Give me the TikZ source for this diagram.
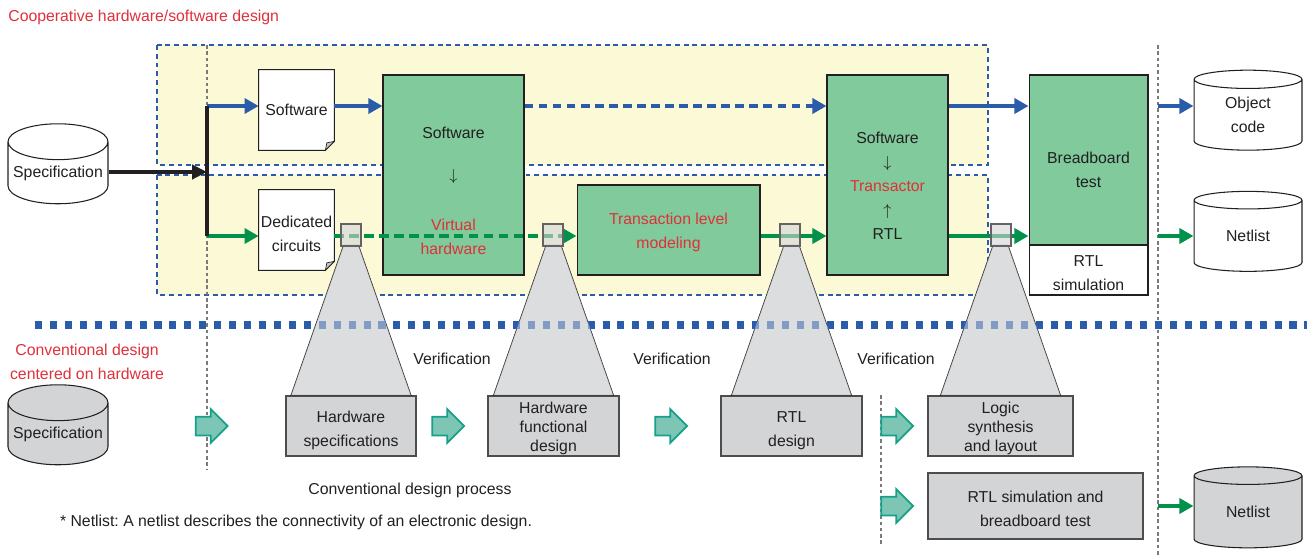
\documentclass[tikz,border=0pt]{standalone}
\usepackage{fontspec}
\setmainfont{Liberation Sans}
\usetikzlibrary{arrows.meta,shapes.geometric,shapes.arrows,calc}
\definecolor{hwblue}{HTML}{2A5CAA}
\definecolor{hwgreen}{HTML}{00924A}
\definecolor{boxgreen}{HTML}{80CA9C}
\definecolor{paleyellow}{HTML}{FCF9D6}
\definecolor{hwred}{HTML}{E0303A}
\definecolor{ink}{HTML}{231F20}
\definecolor{boxgrey}{HTML}{D3D4D6}
\definecolor{conegrey}{HTML}{DCDDDF}
\definecolor{blockteal}{HTML}{7DC6B6}
\definecolor{tealedge}{HTML}{17A088}
\frenchspacing
\begin{document}
\begin{tikzpicture}[x=0.02cm,y=-0.02cm,
    font=\fontsize{9}{13.6}\selectfont,text=ink,
    every node/.style={align=center,inner sep=0pt},
    grn/.style={draw=ink,fill=boxgreen,line width=0.6pt,text depth=0pt},
    gry/.style={draw=ink!80,fill=boxgrey,line width=0.8pt,minimum height=1.2cm,text depth=0pt,text height=22.8pt},
    doc/.style={fill=white,minimum width=1.5cm,minimum height=1.6cm},
    cyl/.style={cylinder,shape border rotate=90,aspect=0.4,draw=ink,fill=white,
      line width=0.6pt,minimum width=2.16cm,minimum height=1.6cm},
    blk/.style={single arrow,draw=tealedge,fill=blockteal,line width=1pt,
      inner sep=0.17cm,minimum height=0.64cm,single arrow head extend=0.15cm},
    swarr/.style={draw=hwblue,line width=2.3pt,-{Triangle[length=8pt,width=8.5pt]}},
    hwarr/.style={draw=hwgreen,line width=2.3pt,-{Triangle[length=8pt,width=8.5pt]}},
    group/.style={draw=hwblue,fill=paleyellow,line width=1.2pt,dash pattern=on 2.8pt off 2.2pt},
    guide/.style={draw=ink!60,line width=0.6pt,dash pattern=on 2pt off 1.6pt},
    probe/.style={draw=ink!70,fill=boxgrey,fill opacity=0.6,line width=0.6pt,
      minimum width=0.4cm,minimum height=0.44cm}]
  \useasboundingbox (0,0) rectangle (1307,558);

  \draw[group] (157,45) rectangle (988,165);
  \draw[group] (157,175) rectangle (988,295);
  \draw[guide] (207,45) -- (207,470);
  \draw[guide] (1158,45) -- (1158,555);
  \draw[guide] (881,395) -- (881,545);

  \node[anchor=west,text=hwred] (title) at (8,17) {Cooperative hardware/software design};
  \node[cyl,minimum width=2cm] (spec) at (58,173) {Specification};
  \node[doc] (sw) at (296.5,110) {Software};
  \node[doc,text height=24.2pt,text depth=0pt] (dc) at (296.5,230) {Dedicated\\circuits};
  \foreach \d in {sw,dc} {
    \fill[paleyellow] (\d.south east) -- ([yshift=0.18cm]\d.south east) -- ([xshift=-0.18cm]\d.south east) -- cycle;
    \draw[ink,line width=0.6pt] (\d.north west) -- (\d.north east) -- ([yshift=0.18cm]\d.south east)
      -- ([xshift=-0.18cm]\d.south east) -- (\d.south west) -- cycle;
    \draw[ink,line width=0.4pt,fill=ink!25] ([yshift=0.18cm]\d.south east)
      -- ([xshift=-0.15cm,yshift=0.15cm]\d.south east) -- ([xshift=-0.18cm]\d.south east) -- cycle;
  }
  \node[grn,minimum width=2.82cm,minimum height=4cm,text height=90pt] (vh) at (453.5,175)
    {Software\\[10pt]$\downarrow$\\[14.7pt]\textcolor{hwred}{Virtual}\\\textcolor{hwred}{hardware}};
  \node[grn,minimum width=3.66cm,minimum height=1.8cm,text=hwred,text height=20.6pt] (tlm) at (668.5,230) {Transaction level\\modeling};
  \node[grn,minimum width=2.42cm,minimum height=4cm,text height=73.5pt] (tr) at (887.5,175)
    {Software\\$\downarrow$\\\textcolor{hwred}{Transactor}\\$\uparrow$\\RTL};
  \node[grn,minimum width=2.38cm,minimum height=3.4cm,text height=31.6pt] (bb) at (1088.5,160) {Breadboard\\test};
  \node[draw=ink,fill=white,line width=0.6pt,minimum width=2.38cm,minimum height=1cm,
    text height=23.6pt,text depth=0pt] (rs) at (1088.5,270) {RTL\\simulation};
  \node[cyl] (obj) at (1248,115) {Object\\code};
  \node[cyl] (net) at (1248,236) {Netlist};

  \node[text=hwred] (conv) at (87,362) {Conventional design\\centered on hardware};
  \node[cyl,fill=boxgrey,minimum width=2cm] (spec2) at (58,434) {Specification};
  \node[gry,minimum width=2.6cm] (hs) at (351,426) {Hardware\\specifications};
  \node[gry,minimum width=2.62cm,text height=28.6pt,font=\fontsize{9}{10.8}\selectfont] (hf) at (553.5,426) {Hardware\\functional\\design};
  \node[gry,minimum width=2.82cm] (rd) at (791.5,426) {RTL\\design};
  \node[gry,minimum width=2.9cm,text height=28.6pt,font=\fontsize{9}{10.8}\selectfont] (ls) at (1000.5,426) {Logic\\synthesis\\and layout};
  \node[gry,minimum width=4.3cm,minimum height=1.32cm,text height=23.6pt] (rb) at (1035.5,506) {RTL simulation and\\breadboard test};
  \node[cyl,fill=boxgrey,minimum height=1.62cm] (net2) at (1248,512) {Netlist};
  \foreach \n/\x/\y in {b1/207/426,b2/443.5/426,b3/666.5/426,b4/892.5/426,b5/892.5/506}
    \node[blk] (\n) at (\x,\y) {};
  \foreach \n/\x in {v1/452,v2/672,v3/896}
    \node (\n) at (\x,359) {Verification};
  \node (proc) at (410,490) {Conventional design process};
  \node (note) at (296,522) {* Netlist: A netlist describes the connectivity of an electronic design.};

  \coordinate (jn) at (207,172);
  \coordinate (jt) at (207,106);
  \coordinate (jb) at (207,236);
  \coordinate (ot) at (1158,106);
  \coordinate (ob) at (1158,236);
  \coordinate (on) at (1158,506);
  \path (jt) edge[swarr] (jt -| sw.west)
        (jt -| sw.east) edge[swarr] (jt -| vh.west)
        (jt -| vh.east) edge[swarr,dash pattern=on 5pt off 3pt] (jt -| tr.west)
        (jt -| tr.east) edge[swarr] (jt -| bb.west)
        (ot) edge[swarr] (ot -| obj.west);
  \path (jb) edge[hwarr] (jb -| dc.west)
        (jb -| dc.east) edge[hwarr,dash pattern=on 5.5pt off 3pt] (jb -| tlm.west)
        (jb -| tlm.east) edge[hwarr] (jb -| tr.west)
        (jb -| tr.east) edge[hwarr] (jb -| bb.west)
        (ob) edge[hwarr] (ob -| net.west)
        (on) edge[hwarr] (on -| net2.west);
  \draw[ink,line width=2.3pt,-{Triangle[length=8.5pt,width=8pt]}] (spec.east |- jn) -- (jn);
  \draw[ink,line width=2.3pt] (jt) -- (jb);

  \foreach \b in {hs,hf,rd,ls}
    \filldraw[fill=conegrey,draw=ink,line width=0.5pt] ($(\b.north)+(-7.5,-150)$) -- ($(\b.north)+(7.5,-150)$)
      -- ($(\b.north)+(60,0)$) -- ($(\b.north)+(-60,0)$) -- cycle;
  \draw[hwblue,line width=4pt,dash pattern=on 4pt off 4.5pt] (35,325) -- (1307,325);
  \foreach \b in {hs,hf,rd,ls}
    \fill[conegrey,fill opacity=0.5] ($(\b.north)+(-7.5,-150)$) -- ($(\b.north)+(7.5,-150)$)
      -- ($(\b.north)+(60,0)$) -- ($(\b.north)+(-60,0)$) -- cycle;
  \foreach \n/\x in {sq1/351,sq2/553,sq3/790,sq4/1001}
    \node[probe] (\n) at (\x,235) {};
\end{tikzpicture}
\end{document}
